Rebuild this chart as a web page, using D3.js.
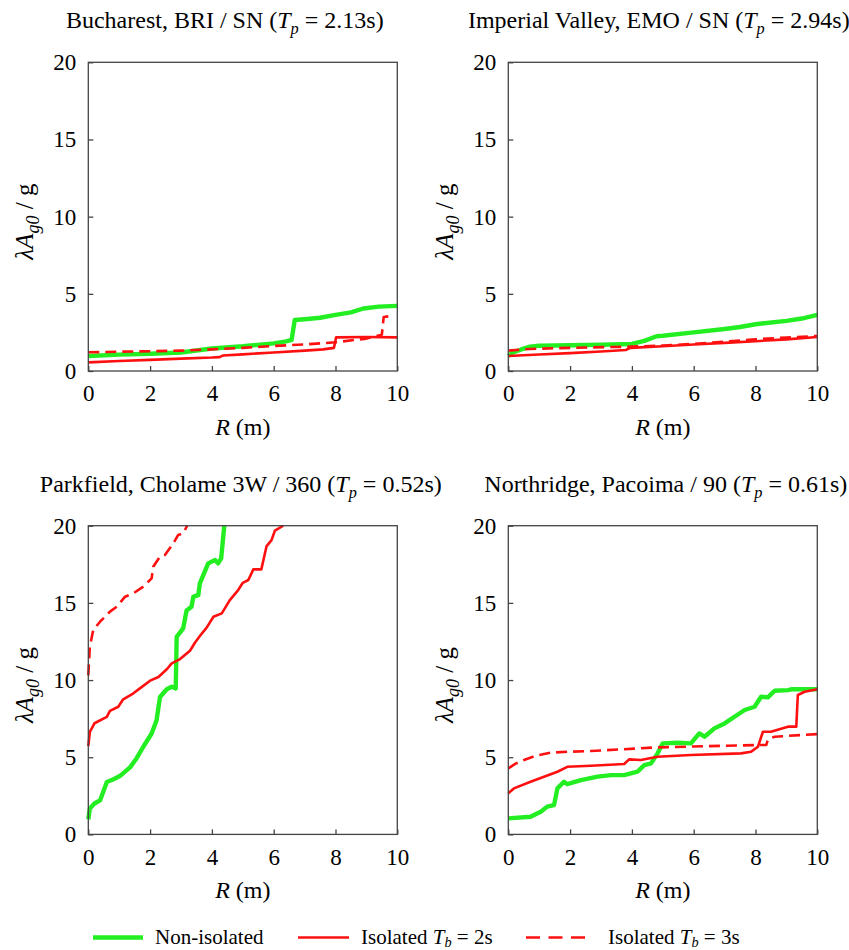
<!DOCTYPE html>
<html>
<head>
<meta charset="utf-8">
<script src="https://cdn.jsdelivr.net/npm/d3@7"></script>
<style>
  body { margin: 0; background: #fff; }
</style>
</head>
<body>
<svg id="chart" width="849" height="950"></svg>
<script>
// Axis ticks shared by all four panels
const rTicks = [0, 2, 4, 6, 8, 10];
const aTicks = [0, 5, 10, 15, 20];

// Ground motions: station label and pulse period Tp (s)
const siteNames = ["Bucharest, BRI / SN", "Imperial Valley, EMO / SN", "Parkfield, Cholame 3W / 360", "Northridge, Pacoima / 90"];
const pulsePeriods = ["2.13", "2.94", "0.52", "0.61"];

// Series: [R (m), lambda*Ag0/g]
const bucharestNonIso = [[0,0.97],[1,1.06],[2,1.12],[3,1.2],[4,1.46],[5,1.6],[6,1.79],[6.4,1.92],[6.58,2.02],[6.68,3.3],[7,3.35],[7.5,3.45],[8,3.64],[8.5,3.8],[8.9,4.05],[9.4,4.17],[10,4.22]];
const bucharestIso2 = [[0,0.56],[1,0.65],[2,0.72],[3,0.8],[4,0.87],[4.25,0.9],[4.35,1.0],[5,1.08],[6,1.2],[7,1.32],[7.6,1.4],[7.95,1.5],[8.02,2.18],[9,2.2],[10,2.18]];
const bucharestIso3 = [[0,1.21],[1,1.25],[2,1.28],[3,1.32],[4,1.4],[5,1.5],[6,1.62],[7,1.72],[8,1.86],[9,2.1],[9.5,2.35],[9.56,3.5],[9.76,3.55]];

const imperialNonIso = [[0,0.97],[0.15,1.2],[0.4,1.38],[0.7,1.58],[1,1.64],[2,1.67],[3,1.7],[4,1.75],[4.4,1.95],[4.8,2.25],[5,2.28],[6,2.5],[7,2.72],[7.5,2.85],[8,3.03],[9,3.25],[9.5,3.4],[10,3.63]];
const imperialIso2 = [[0,0.97],[1,1.07],[2,1.16],[3,1.26],[3.8,1.36],[3.95,1.5],[5,1.6],[6,1.72],[7,1.82],[8,1.93],[9,2.05],[10,2.2]];
const imperialIso3 = [[0,1.32],[0.7,1.43],[2,1.5],[4,1.58],[5,1.65],[6,1.76],[7,1.9],[8,2.05],[9,2.17],[10,2.27]];

const parkfieldNonIso = [[0,0.97],[0.05,1.68],[0.2,2.0],[0.38,2.2],[0.6,3.4],[0.8,3.56],[1.02,3.78],[1.35,4.34],[1.56,4.92],[1.78,5.68],[2.05,6.54],[2.21,7.4],[2.32,8.9],[2.54,9.4],[2.7,9.57],[2.83,9.46],[2.86,12.8],[3.07,13.35],[3.18,14.5],[3.34,14.75],[3.4,15.4],[3.56,15.5],[3.61,16.26],[3.88,17.56],[4.1,17.78],[4.2,17.56],[4.3,17.88],[4.4,20]];
const parkfieldIso2 = [[0,5.72],[0.05,6.65],[0.2,7.2],[0.6,7.62],[0.7,8.0],[0.97,8.27],[1.13,8.75],[1.46,9.14],[1.67,9.46],[2.0,9.96],[2.27,10.2],[2.54,10.7],[2.7,11.08],[2.97,11.36],[3.29,11.9],[3.45,12.42],[3.61,12.85],[3.83,13.4],[4.05,14.1],[4.32,14.32],[4.58,15.18],[4.85,15.83],[5.0,16.3],[5.18,16.48],[5.34,17.17],[5.6,17.17],[5.77,18.68],[5.93,19.07],[6.04,19.68],[6.31,20]];
const parkfieldIso3 = [[0,10.3],[0.05,12.16],[0.16,13.24],[0.38,13.78],[0.7,14.43],[0.92,14.75],[1.19,15.4],[1.46,15.62],[1.78,16.05],[2.05,16.59],[2.1,17.34],[2.32,18.0],[2.48,18.1],[2.75,18.85],[2.91,19.4],[3.07,19.5],[3.2,20]];

const northridgeNonIso = [[0,1.04],[0.72,1.14],[1.05,1.47],[1.26,1.8],[1.48,1.9],[1.59,2.98],[1.8,3.41],[1.91,3.26],[2.35,3.52],[2.89,3.74],[3.32,3.84],[3.75,3.84],[4.18,4.06],[4.4,4.49],[4.62,4.6],[4.83,5.25],[5.0,5.9],[5.48,5.94],[5.91,5.9],[6.18,6.54],[6.35,6.33],[6.67,6.87],[7.0,7.19],[7.32,7.62],[7.65,8.06],[7.97,8.27],[8.18,8.92],[8.4,8.88],[8.62,9.31],[9.05,9.35],[9.16,9.4],[10,9.4]];
const northridgeIso2 = [[0,2.66],[0.18,2.98],[0.72,3.41],[1.59,4.06],[1.91,4.38],[2.67,4.45],[3.75,4.56],[3.91,4.86],[4.29,4.82],[4.83,5.03],[5.91,5.14],[7.53,5.25],[7.86,5.36],[8.08,5.68],[8.24,6.65],[8.5,6.65],[9.05,6.98],[9.32,6.98],[9.37,9.03],[9.59,9.24],[10,9.4]];
const northridgeIso3 = [[0,4.28],[0.25,4.6],[0.51,4.82],[0.9,5.1],[1.37,5.3],[2.0,5.36],[2.67,5.4],[4.83,5.64],[8.08,5.79],[8.35,5.79],[8.4,6.16],[8.62,6.33],[10,6.5]];

const seriesLabels = ["Non-isolated", "Isolated T_b = 2s", "Isolated T_b = 3s"];

const panelSeries = [
  [bucharestNonIso, bucharestIso2, bucharestIso3],
  [imperialNonIso, imperialIso2, imperialIso3],
  [parkfieldNonIso, parkfieldIso2, parkfieldIso3],
  [northridgeNonIso, northridgeIso2, northridgeIso3]
];

// ---- layout & styling ----
const FONT = '"Liberation Serif"';
const seriesStyle = [
  { color: "#22ee22", width: 4.4, dash: null },
  { color: "#ff1010", width: 2.6, dash: null },
  { color: "#ff1010", width: 2.6, dash: "11,6" }
];
const plotW = 309, plotH = 308.7;
const origins = [[88.3, 62.3], [508.3, 62.3], [88.3, 525.7], [508.3, 525.7]];
const titleShift = [-18, -4, -2, 3];

const svg = d3.select("#chart").style("font-family", FONT);
const x = d3.scaleLinear().domain([0, 10]).range([0, plotW]);
const y = d3.scaleLinear().domain([0, 20]).range([plotH, 0]);
const line = d3.line().x(d => x(d[0])).y(d => y(d[1]));

function txt(sel, size) {
  return sel.append("text").style("font-family", FONT).style("font-size", size + "px").attr("fill", "#000");
}

// Write "T_p" style text with a lowered italic subscript
function addSubscripted(sel, before, letter, sub, after, size, shift) {
  sel.append("tspan").text(before);
  sel.append("tspan").attr("font-style", "italic").text(letter);
  sel.append("tspan").attr("font-style", "italic").style("font-size", (size * 0.68) + "px").attr("dy", shift).text(sub);
  sel.append("tspan").attr("dy", -shift).text(after);
}

panelSeries.forEach((series, i) => {
  const [ox, oy] = origins[i];
  const g = svg.append("g").attr("transform", `translate(${ox},${oy})`);

  g.append("clipPath").attr("id", "clip" + i)
    .append("rect").attr("x", -3).attr("y", -1).attr("width", plotW + 6).attr("height", plotH + 2);

  // axes with inward ticks
  const yAxis = d3.axisLeft(y).tickValues(aTicks).tickSize(-5).tickPadding(12).tickFormat(d3.format("d"));
  const xAxis = d3.axisBottom(x).tickValues(rTicks).tickSize(-5).tickPadding(14).tickFormat(d3.format("d"));
  const ya = g.append("g").call(yAxis);
  const xa = g.append("g").attr("transform", `translate(0,${plotH})`).call(xAxis);
  [ya, xa].forEach(a => {
    a.attr("font-family", null).attr("font-size", null);
    a.select(".domain").remove();
    a.selectAll(".tick line").attr("stroke", "#444").attr("stroke-width", 1.3);
    a.selectAll(".tick text").style("font-family", FONT).style("font-size", "23px").attr("fill", "#000");
  });
  xa.selectAll(".tick text").attr("dy", "0.71em");

  // curves
  const curves = g.append("g").attr("clip-path", `url(#clip${i})`);
  series.forEach((data, k) => {
    const st = seriesStyle[k];
    curves.append("path").datum(data)
      .attr("d", line)
      .attr("fill", "none")
      .attr("stroke", st.color)
      .attr("stroke-width", st.width)
      .attr("stroke-linejoin", "round")
      .attr("stroke-dasharray", st.dash);
  });

  // frame
  g.append("rect").attr("width", plotW).attr("height", plotH)
    .attr("fill", "none").attr("stroke", "#444").attr("stroke-width", 1.3);

  // title
  const t = txt(g, 24).attr("x", plotW / 2 + titleShift[i]).attr("y", -34).attr("text-anchor", "middle");
  addSubscripted(t, siteNames[i] + " (", "T", "p", " = " + pulsePeriods[i] + "s)", 24, 6);

  // x label
  const xl = txt(g, 24).attr("x", plotW / 2).attr("y", plotH + 64).attr("text-anchor", "middle");
  xl.append("tspan").attr("font-style", "italic").text("R");
  xl.append("tspan").text(" (m)");

  // y label
  const yl = txt(g, 25)
    .attr("transform", `translate(${-55},${plotH / 2 + 5}) rotate(-90)`)
    .attr("text-anchor", "middle");
  yl.append("tspan").attr("font-style", "italic").text("λA");
  yl.append("tspan").attr("font-style", "italic").style("font-size", "18px").attr("dy", 6).text("g0");
  yl.append("tspan").attr("dy", -6).text(" / ");
  yl.append("tspan").text("g");
});

// legend
const legendPos = [[93, 143, 155], [298, 349, 361], [526, 585, 608]];
const legend = svg.append("g");
seriesLabels.forEach((lab, k) => {
  const st = seriesStyle[k];
  const [x1, x2, tx] = legendPos[k];
  legend.append("line").attr("x1", x1).attr("x2", x2).attr("y1", 937.5).attr("y2", 937.5)
    .attr("stroke", st.color).attr("stroke-width", st.width)
    .attr("stroke-dasharray", st.dash ? "14,8.5" : null);
  const t = txt(legend, 21).attr("x", tx).attr("y", 943.5);
  const m = lab.match(/^(.*?)T_(\w)(.*)$/);
  if (m) addSubscripted(t, m[1], "T", m[2], m[3], 21, 3);
  else t.text(lab);
});
</script>
</body>
</html>
